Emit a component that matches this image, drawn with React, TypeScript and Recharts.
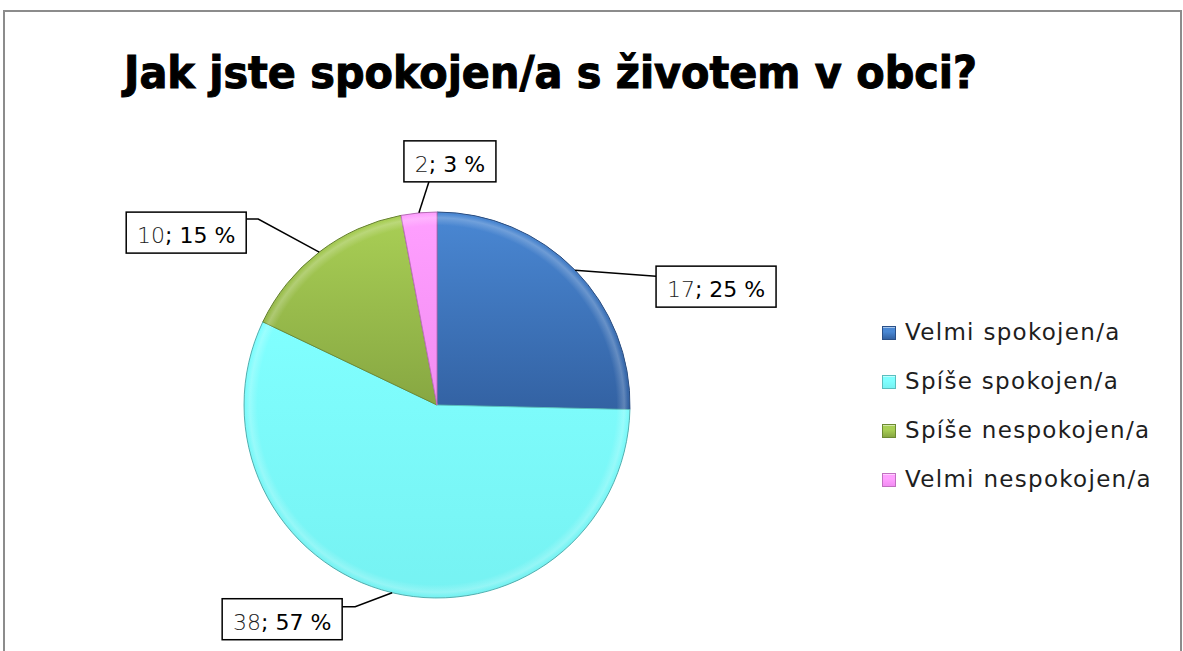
import React from 'react';
import { PieChart, Pie, Cell, Legend } from 'recharts';

// ---- data ----
const categories = ['Velmi spokojen/a', 'Spíše spokojen/a', 'Spíše nespokojen/a', 'Velmi nespokojen/a'];
const counts = [17, 38, 10, 2];
const title = 'Jak jste spokojen/a s životem v obci?';

// ---- style ----
const topColors = ['#4A88D4', '#80FFFF', '#A9CF55', '#FFA0FF'];
const bottomColors = ['#3362A3', '#76F2F2', '#87A742', '#F28CF2'];
const strokeColors = ['#2A5088', '#5ABEBE', '#6C8A32', '#C070C0'];

const W = 1183;
const H = 651;
const PIE_CX = 437;
const PIE_CY = 405;
const PIE_R = 193;
const RAD = Math.PI / 180;
const FONT = '"DejaVu Sans", sans-serif';

// label leader layout: elbow offset from slice edge, horizontal tail, box side
const LABEL_LAYOUT = [
  { dx: 81, dy: 6, tail: 0, side: 'right', boxOff: 10 },
  { dx: -37, dy: 14, tail: -13, side: 'left', boxOff: 8 },
  { dx: -61, dy: -33, tail: -12, side: 'left', boxOff: 7 },
  { dx: 10, dy: -31, tail: 0, side: 'top', boxOff: 25 },
];

const data = categories.map((name, i) => ({ name, value: counts[i] }));
const total = counts.reduce((a, b) => a + b, 0);

const charW = (s: string) => {
  let w = 0;
  for (const ch of s) {
    if (/[0-9]/.test(ch)) w += 0.636;
    else if (ch === ';') w += 0.337;
    else if (ch === ' ') w += 0.318;
    else if (ch === '%') w += 0.95;
    else w += 0.6;
  }
  return w;
};

const renderLabel = (props: any) => {
  const { cx, cy, midAngle, outerRadius, index, value } = props;
  const L = LABEL_LAYOUT[index];
  const ex = cx + outerRadius * Math.cos(-midAngle * RAD);
  const ey = cy + outerRadius * Math.sin(-midAngle * RAD);
  const mx = ex + L.dx;
  const my = ey + L.dy;
  const tx = mx + L.tail;
  const ty = my;
  const pct = `; ${Math.round((value / total) * 100)} %`;
  const fs = 22;
  const bw = Math.round(charW(`${value}${pct}`) * fs) + 22;
  const bh = 41;
  let bx = tx;
  let by = ty - L.boxOff;
  if (L.side === 'left') bx = tx - bw;
  if (L.side === 'top') {
    bx = tx - L.boxOff;
    by = ty - bh;
  }
  return (
    <g key={`lbl-${index}`}>
      <polyline
        points={`${ex},${ey} ${mx},${my} ${tx},${ty}`}
        fill="none"
        stroke="#000"
        strokeWidth={1.5}
      />
      <rect x={bx} y={by} width={bw} height={bh} fill="#fff" stroke="#000" strokeWidth={1.5} />
      <text x={bx + bw / 2} y={by + 31} textAnchor="middle" fontFamily={FONT} fontSize={fs}>
        <tspan fill="#222" fontWeight={300}>{value}</tspan>
        <tspan fill="#000">{pct}</tspan>
      </text>
    </g>
  );
};

const LegendContent = () => (
  <div style={{ fontFamily: FONT }}>
    {categories.map((c, i) => (
      <div key={c} style={{ display: 'flex', alignItems: 'center', height: 49 }}>
        <div
          style={{
            width: 14,
            height: 14,
            boxSizing: 'border-box',
            border: `1px solid ${strokeColors[i]}`,
            background: `linear-gradient(180deg, ${topColors[i]} 0%, ${topColors[i]} 40%, ${bottomColors[i]} 100%)`,
            boxShadow: 'inset 0 1px 0 rgba(255,255,255,0.5)',
            marginRight: 9,
          }}
        />
        <span
          style={{
            fontSize: 23,
            letterSpacing: 1.3,
            color: '#1e1e1e',
            whiteSpace: 'nowrap',
            lineHeight: '23px',
          }}
        >
          {c}
        </span>
      </div>
    ))}
  </div>
);

export default function App() {
  return (
    <div style={{ position: 'absolute', left: 0, top: 0, width: W, height: H, overflow: 'hidden', background: '#fff' }}>
      <div
        style={{
          position: 'absolute',
          left: 3,
          top: 10,
          width: 1179,
          height: 720,
          boxSizing: 'border-box',
          border: '2px solid #8c8c8c',
        }}
      />
      <svg style={{ position: 'absolute', left: 0, top: 0 }} width={W} height={120}>
        <text
          x={124}
          y={88}
          fontFamily='"DejaVu Sans Condensed", "DejaVu Sans", sans-serif'
          fontWeight="bold"
          fontSize={44}
          textLength={853}
          lengthAdjust="spacingAndGlyphs"
          fill="#000"
          stroke="#000"
          strokeWidth={1}
        >
          {title}
        </text>
      </svg>
      <div style={{ position: 'absolute', left: 0, top: 0 }}>
        <PieChart width={W} height={H} margin={{ top: 0, right: 0, bottom: 0, left: 0 }}>
          <defs>
            {topColors.map((c, i) => (
              <linearGradient key={i} id={`g${i}`} x1="0" y1="0" x2="0" y2="1">
                <stop offset="0%" stopColor={c} />
                <stop offset="100%" stopColor={bottomColors[i]} />
              </linearGradient>
            ))}
            <radialGradient id="rim" gradientUnits="userSpaceOnUse" cx={PIE_CX} cy={PIE_CY} r={PIE_R}>
              <stop offset="0%" stopColor="#fff" stopOpacity={0} />
              <stop offset="93%" stopColor="#fff" stopOpacity={0} />
              <stop offset="97%" stopColor="#fff" stopOpacity={0.22} />
              <stop offset="99.2%" stopColor="#fff" stopOpacity={0} />
              <stop offset="100%" stopColor="#000" stopOpacity={0.15} />
            </radialGradient>
          </defs>
          <Pie
            data={data}
            dataKey="value"
            nameKey="name"
            cx={PIE_CX}
            cy={PIE_CY}
            outerRadius={PIE_R}
            startAngle={90}
            endAngle={-270}
            isAnimationActive={false}
            labelLine={false}
            label={renderLabel}
          >
            {data.map((d, i) => (
              <Cell key={d.name} fill={`url(#g${i})`} stroke={strokeColors[i]} strokeWidth={1} />
            ))}
          </Pie>
          <Pie
            data={data}
            dataKey="value"
            nameKey="name"
            cx={PIE_CX}
            cy={PIE_CY}
            outerRadius={PIE_R}
            startAngle={90}
            endAngle={-270}
            isAnimationActive={false}
            legendType="none"
            fill="url(#rim)"
            stroke="none"
          />
          <Legend
            content={<LegendContent />}
            wrapperStyle={{ position: 'absolute', left: 882, top: 308, width: 295 }}
          />
        </PieChart>
      </div>
    </div>
  );
}
